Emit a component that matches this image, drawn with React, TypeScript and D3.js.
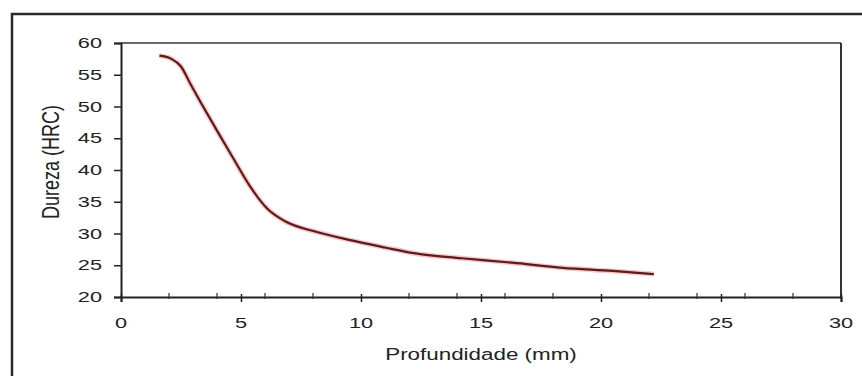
import React, { useEffect, useRef } from "react";
import * as d3 from "d3";

// profundidade (mm) e dureza (HRC)
const profundidade = [1.6, 2.1, 2.5, 2.9, 3.3, 4.0, 4.7, 5.4, 6.1, 6.8, 8.2, 9.5, 11.0, 12.2, 14.2, 16.3, 18.4, 20.5, 22.2];
const dureza = [58.0, 57.5, 56.3, 53.5, 50.8, 46.2, 41.7, 37.3, 33.9, 32.0, 30.2, 29.0, 27.8, 26.9, 26.1, 25.4, 24.6, 24.1, 23.6];
const xTicks = [0, 5, 10, 15, 20, 25, 30];
const xMinorTicks = [2, 4, 6, 8, 12, 14, 16, 18, 22, 24, 26, 28];
const yTicks = [20, 25, 30, 35, 40, 45, 50, 55, 60];

const App = () => {
  const svgRef = useRef(null);

  useEffect(() => {
    drawChart();
  }, []);

  const drawChart = () => {
    const width = 862;
    const height = 376;
    const left = 121;
    const right = 841;
    const top = 43;
    const bottom = 297;
    const font = "'Liberation Sans', Arial, sans-serif";
    const stretch = 1.45;

    const svg = d3.select(svgRef.current);
    svg.selectAll("*").remove();
    svg.attr("width", width).attr("height", height);

    svg.append("rect").attr("width", width).attr("height", height).attr("fill", "#fff");

    // moldura externa (cortada a direita e embaixo)
    svg
      .append("rect")
      .attr("x", 12)
      .attr("y", 14)
      .attr("width", 880)
      .attr("height", 400)
      .attr("fill", "none")
      .attr("stroke", "#2b2b2b")
      .attr("stroke-width", 2.5);

    const x = d3.scaleLinear().domain([0, 30]).range([left, right]);
    const y = d3.scaleLinear().domain([20, 60]).range([bottom, top]);

    // bordas da area do grafico
    svg
      .append("line")
      .attr("x1", left)
      .attr("x2", right)
      .attr("y1", top)
      .attr("y2", top)
      .attr("stroke", "#6a6a6a")
      .attr("stroke-width", 2);
    svg
      .append("line")
      .attr("x1", right)
      .attr("x2", right)
      .attr("y1", top)
      .attr("y2", bottom)
      .attr("stroke", "#333")
      .attr("stroke-width", 2);

    // eixo x
    const gx = svg.append("g").attr("transform", `translate(0, ${bottom})`);
    gx.call(d3.axisBottom(x).tickValues(xTicks).tickSize(5).tickFormat(() => ""));
    gx.select(".domain").attr("stroke", "#222").attr("stroke-width", 2);
    gx.selectAll(".tick line").attr("stroke", "#222").attr("stroke-width", 1.5).attr("y1", -3);
    gx.selectAll(".minor")
      .data(xMinorTicks)
      .enter()
      .append("line")
      .attr("x1", (d) => x(d))
      .attr("x2", (d) => x(d))
      .attr("y1", -4)
      .attr("y2", 2)
      .attr("stroke", "#333")
      .attr("stroke-width", 1.2);

    gx.selectAll(".xlabel")
      .data(xTicks)
      .enter()
      .append("text")
      .attr("transform", (d) => `translate(${x(d)}, 31) scale(${stretch}, 1)`)
      .attr("text-anchor", "middle")
      .attr("font-family", font)
      .attr("font-size", 15)
      .attr("fill", "#222")
      .text((d) => d);

    // eixo y
    const gy = svg.append("g").attr("transform", `translate(${left}, 0)`);
    gy.call(d3.axisLeft(y).tickValues(yTicks).tickSize(7).tickFormat(() => ""));
    gy.select(".domain").attr("stroke", "#222").attr("stroke-width", 2);
    gy.selectAll(".tick line").attr("stroke", "#222").attr("stroke-width", 1.5);

    gy.selectAll(".ylabel")
      .data(yTicks)
      .enter()
      .append("text")
      .attr("transform", (d) => `translate(-19, ${y(d) + 5}) scale(${stretch}, 1)`)
      .attr("text-anchor", "end")
      .attr("font-family", font)
      .attr("font-size", 15)
      .attr("fill", "#222")
      .text((d) => d);

    // titulos
    svg
      .append("text")
      .attr("transform", `translate(${(left + right) / 2}, 360) scale(1.4, 1)`)
      .attr("text-anchor", "middle")
      .attr("font-family", font)
      .attr("font-size", 16)
      .attr("fill", "#222")
      .text("Profundidade (mm)");

    svg
      .append("text")
      .attr("transform", `translate(59, ${(top + bottom) / 2 - 8}) scale(1.35, 1) rotate(-90)`)
      .attr("text-anchor", "middle")
      .attr("font-family", font)
      .attr("font-size", 18)
      .attr("fill", "#222")
      .text("Dureza (HRC)");

    // curva
    const pts = profundidade.map((p, i) => [p, dureza[i]]);
    const line = d3
      .line()
      .x((d) => x(d[0]))
      .y((d) => y(d[1]))
      .curve(d3.curveMonotoneX);

    svg
      .append("path")
      .attr("d", line(pts))
      .attr("fill", "none")
      .attr("stroke", "#f3a3a3")
      .attr("stroke-opacity", 0.6)
      .attr("stroke-width", 5);
    svg
      .append("path")
      .attr("d", line(pts))
      .attr("fill", "none")
      .attr("stroke", "#5a1c1c")
      .attr("stroke-width", 2.2);
  };

  return (
    <div style={{ position: "absolute", left: 0, top: 0 }}>
      <svg ref={svgRef} style={{ display: "block" }}></svg>
    </div>
  );
};

export default App;
